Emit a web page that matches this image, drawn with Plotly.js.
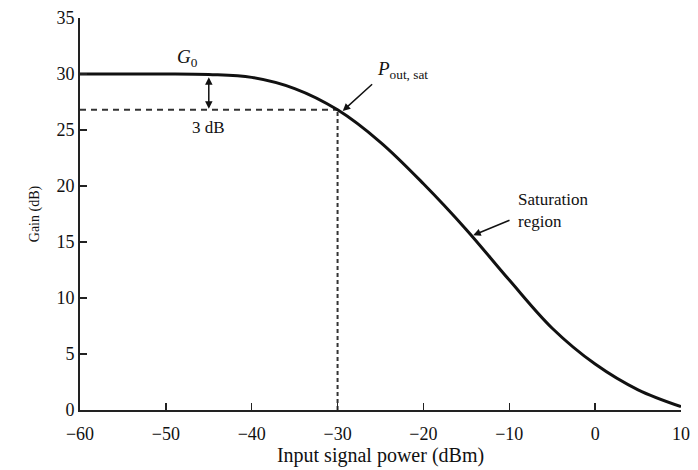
<!DOCTYPE html>
<html>
<head>
<meta charset="utf-8">
<script src="https://cdn.plot.ly/plotly-3.0.1.min.js"></script>
<style>body{margin:0;background:#fff}#chart{width:698px;height:470px}</style>
</head>
<body>
<div id="chart"></div>
<script>
// Data
const inputPower = [-60, -55, -50, -45, -40, -35, -30, -25, -20, -15, -10, -5, 0, 5, 10];
const gainDb     = [30.0, 30.0, 30.0, 29.95, 29.7, 28.7, 26.8, 23.9, 20.2, 16.1, 11.6, 7.3, 4.1, 1.8, 0.3];

const dashH_x = [-60, -30];      // 3 dB level (horizontal dashed)
const dashH_y = [26.8, 26.8];
const dashV_x = [-30, -30];      // vertical dashed at saturation input
const dashV_y = [0, 26.8];

const xTicks = [-60, -50, -40, -30, -20, -10, 0, 10];
const yTicks = [0, 5, 10, 15, 20, 25, 30, 35];

const serif = 'Liberation Serif, Times New Roman, serif';

const traces = [
  {x: dashH_x, y: dashH_y, mode: 'lines', line: {color: '#333', width: 2, dash: '6px,5px'}, hoverinfo: 'skip'},
  {x: dashV_x, y: dashV_y, mode: 'lines', line: {color: '#333', width: 2, dash: '4px,3px'}, hoverinfo: 'skip'},
  {x: inputPower, y: gainDb, mode: 'lines', line: {color: '#111', width: 3, shape: 'spline', smoothing: 1.0}, hoverinfo: 'skip'}
];

const layout = {
  width: 698, height: 470,
  margin: {l: 80, r: 17, t: 18, b: 60},
  paper_bgcolor: '#fff', plot_bgcolor: '#fff',
  showlegend: false,
  font: {family: serif, color: '#1a1a1a'},
  xaxis: {
    range: [-60, 10], tickvals: xTicks, ticks: 'inside', ticklen: 7, tickwidth: 1.5, tickcolor: '#222',
    showline: true, linecolor: '#222', linewidth: 2, showgrid: false, zeroline: false,
    ticklabelstandoff: 6,
    tickfont: {family: serif, size: 18, color: '#111'},
    title: {text: 'Input signal power (dBm)', font: {family: serif, size: 20, color: '#111'}, standoff: 2}
  },
  yaxis: {
    range: [0, 35], tickvals: yTicks, ticks: 'inside', ticklen: 7, tickwidth: 1.5, tickcolor: '#222',
    showline: true, linecolor: '#222', linewidth: 2, showgrid: false, zeroline: false,
    tickfont: {family: serif, size: 18, color: '#111'},
    title: {text: 'Gain (dB)', font: {family: serif, size: 14, color: '#111'}, standoff: 14}
  },
  annotations: [
    {x: -47.5, y: 31.4, xref: 'x', yref: 'y', text: '<i>G</i><sub>0</sub>', showarrow: false, font: {family: serif, size: 19, color: '#111'}},
    {x: -45, y: 26.9, ax: -45, ay: 29.85, xref: 'x', yref: 'y', axref: 'x', ayref: 'y', text: '', showarrow: true, arrowhead: 2, arrowside: 'end+start', arrowsize: 1, arrowwidth: 1.5, arrowcolor: '#111'},
    {x: -45, y: 25.2, xref: 'x', yref: 'y', text: '3 dB', showarrow: false, font: {family: serif, size: 17, color: '#111'}},
    {x: -29.4, y: 26.7, ax: -25.8, ay: 29.2, xref: 'x', yref: 'y', axref: 'x', ayref: 'y', text: '', showarrow: true, arrowhead: 2, arrowsize: 1, arrowwidth: 1.5, arrowcolor: '#111'},
    {x: -25.6, y: 30.4, xref: 'x', yref: 'y', xanchor: 'left', text: '<i>P</i><sub>out, sat</sub>', showarrow: false, font: {family: serif, size: 19, color: '#111'}},
    {x: -14.2, y: 15.6, ax: -9.8, ay: 17.0, xref: 'x', yref: 'y', axref: 'x', ayref: 'y', text: '', showarrow: true, arrowhead: 2, arrowsize: 1, arrowwidth: 1.5, arrowcolor: '#111'},
    {x: -9.2, y: 17.8, xref: 'x', yref: 'y', xanchor: 'left', align: 'left', text: 'Saturation<br>region', showarrow: false, font: {family: serif, size: 17, color: '#111'}}
  ]
};

Plotly.newPlot('chart', traces, layout, {staticPlot: true, displayModeBar: false});
</script>
</body>
</html>
